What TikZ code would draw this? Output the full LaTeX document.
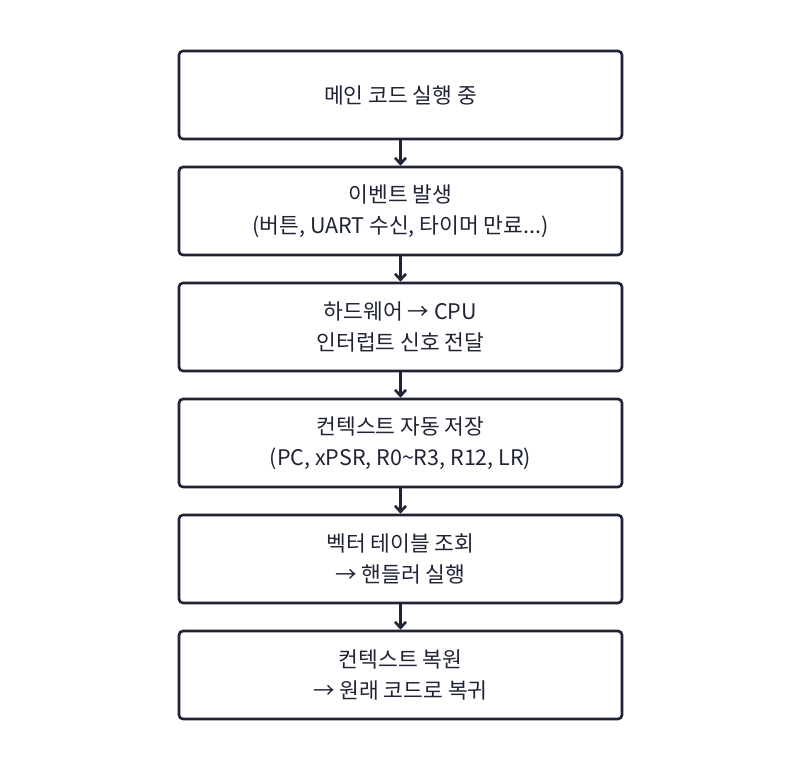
\documentclass[tikz,border=0pt]{standalone}
\usepackage{fontspec}
\setmainfont{Noto Sans CJK KR}
\usetikzlibrary{arrows.meta}
\definecolor{ink}{HTML}{1F2335}
\begin{document}
\begin{tikzpicture}[x=1pt,y=-1pt,
  box/.style={draw=ink,line width=2.6pt,rounded corners=4pt,minimum width=443pt,minimum height=88pt,align=center,text=ink,font=\fontsize{21.5}{31}\selectfont},
  conn/.style={draw=ink,line width=2.6pt,-{Straight Barb[length=6pt,width=11pt]}}]
\useasboundingbox (0,0) rectangle (801,772);
\node[box] (b1) at (400.5,95) {메인 코드 실행 중};
\node[box] (b2) at (400.5,211) {이벤트 발생\\(버튼, UART 수신, 타이머 만료...)};
\node[box] (b3) at (400.5,327) {하드웨어 → CPU\\인터럽트 신호 전달};
\node[box] (b4) at (400.5,443) {컨텍스트 자동 저장\\(PC, xPSR, R0\textasciitilde R3, R12, LR)};
\node[box] (b5) at (400.5,559) {벡터 테이블 조회\\→ 핸들러 실행};
\node[box] (b6) at (400.5,675) {컨텍스트 복원\\→ 원래 코드로 복귀};
\draw[conn] (b1) -- (b2);
\draw[conn] (b2) -- (b3);
\draw[conn] (b3) -- (b4);
\draw[conn] (b4) -- (b5);
\draw[conn] (b5) -- (b6);
\end{tikzpicture}
\end{document}
